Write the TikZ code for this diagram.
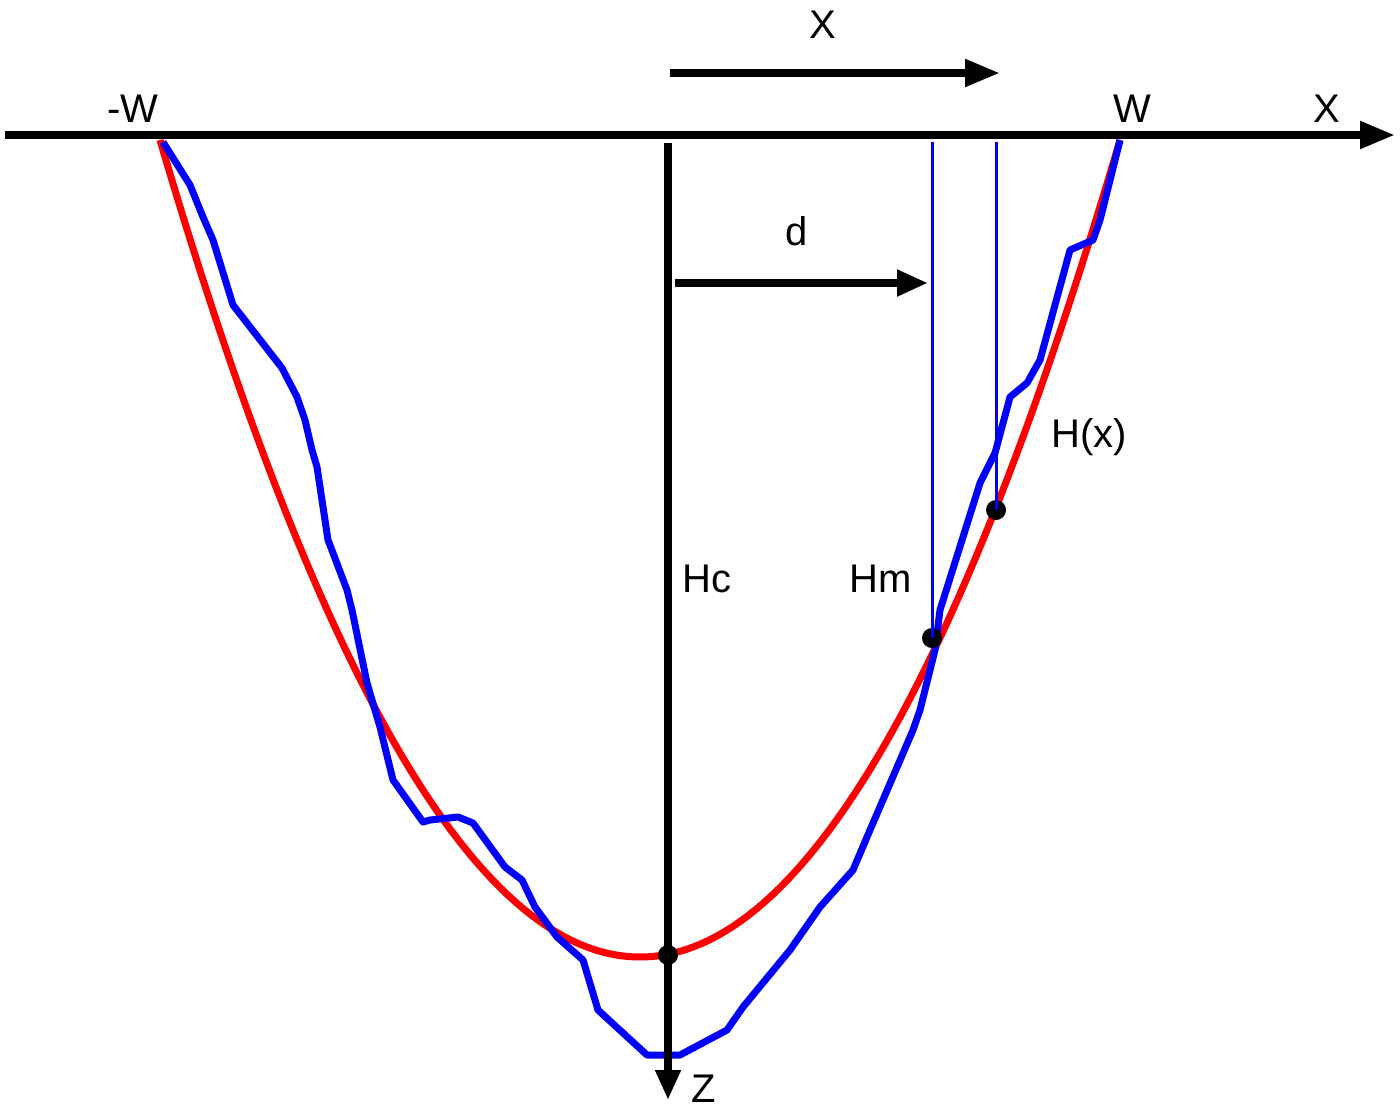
\documentclass[tikz,border=0pt]{standalone}
\usepackage{fontspec}
\setmainfont{Liberation Sans}
\usetikzlibrary{arrows.meta}
\begin{document}
\begin{tikzpicture}[x=0.5pt,y=-0.5pt,
  axisline/.style={line width=4pt,-{Triangle[length=17.5pt,width=13pt]}},
  redcurve/.style={red,line width=3.5pt,line join=round},
  bluecurve/.style={blue,line width=3.5pt,line join=round},
  thinblue/.style={blue,line width=1.5pt},
  lbl/.style={inner sep=0pt,anchor=base,font=\fontsize{20}{24}\selectfont},
  dotnode/.style={circle,fill=black,minimum size=10pt,inner sep=0pt}]
\useasboundingbox (0,0) rectangle (1400,1109);
% coordinates
\coordinate (xl) at (5,135);
\coordinate (xr) at (1395,135);
\coordinate (zt) at (668,143);
\coordinate (zb) at (668,1100);
\coordinate (tl) at (670,73);
\coordinate (tr) at (1000,73);
\coordinate (dl) at (675,283);
\coordinate (dr) at (928,283);
\coordinate (m1) at (932,142);
\coordinate (m2) at (996,142);
% red fitted curve
\draw[redcurve] plot[domain=160:1120,samples=120] (\x,{957-817*((\x-640)/480)^2});
% blue measured profile
\draw[bluecurve] (163,142) -- (190,185) -- (203,217) -- (213,240) -- (233,305) -- (282,368)
  -- (297,397) -- (305,420) -- (312,450) -- (317,467) -- (328,540) -- (333,553) -- (347,590)
  -- (352,610) -- (367,683) -- (380,727) -- (393,780) -- (423,822) -- (430,820) -- (458,817)
  -- (473,823) -- (505,867) -- (522,880) -- (535,907) -- (557,937) -- (583,960) -- (598,1010)
  -- (647,1055) -- (680,1055) -- (727,1030) -- (743,1007) -- (790,950) -- (820,907) -- (853,870)
  -- (867,837) -- (913,730) -- (920,710) -- (935,650) -- (940,610) -- (980,483) -- (995,453)
  -- (1010,397) -- (1027,383) -- (1040,360) -- (1070,250) -- (1093,240) -- (1100,220) -- (1120,140);
% dots
\node[dotnode] (p1) at (932,638) {};
\node[dotnode] (p2) at (996,510) {};
\node[dotnode] (pc) at (668,955) {};
% thin blue verticals
\draw[thinblue] (m1) -- (p1.center);
\draw[thinblue] (m2) -- (p2.center);
% axes
\draw[axisline] (xl) -- (xr);
\draw[line width=4pt,-{Triangle[length=15pt,width=12pt]}] (zt) -- (zb);
\draw[axisline] (tl) -- (tr);
\draw[line width=4pt,-{Triangle[length=15.5pt,width=12.5pt]}] (dl) -- (dr);
% labels
\node[lbl] (lX) at (823,38) {X};
\node[lbl] (lmW) at (133,122) {-W};
\node[lbl] (lW) at (1132,122) {W};
\node[lbl] (lXr) at (1327,122) {X};
\node[lbl] (ld) at (797,245) {d};
\node[lbl] (lHc) at (707,592) {Hc};
\node[lbl] (lHm) at (881,592) {Hm};
\node[lbl] (lHx) at (1089,447) {H(x)};
\node[lbl] (lZ) at (704,1102) {Z};
\end{tikzpicture}
\end{document}
